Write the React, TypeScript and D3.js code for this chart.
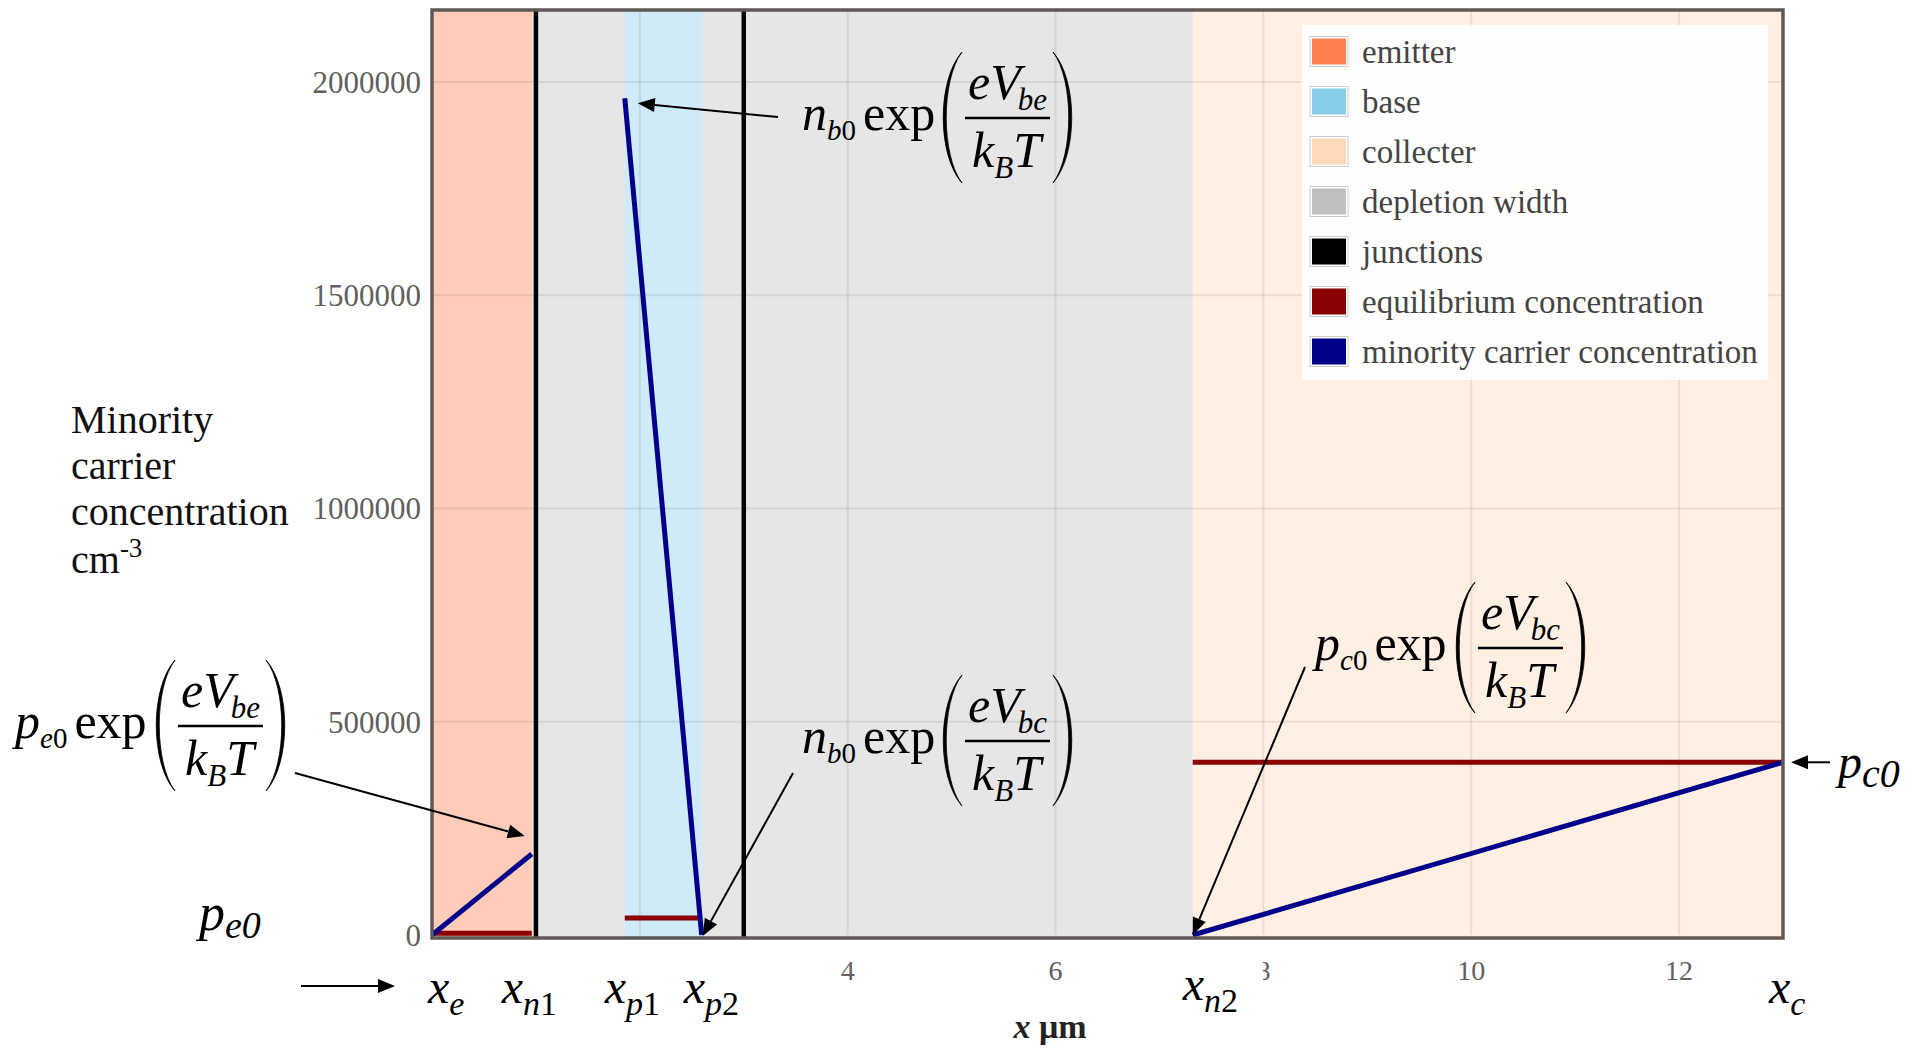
import React, { useEffect } from 'react';
import * as d3 from 'd3';

const W = 1921;
const H = 1049;

// ---------- data ----------
const xTicks = [0, 2, 4, 6, 8, 10, 12];
const xTicksHiddenByLabels = [0, 2];
const yTicks = [0, 500000, 1000000, 1500000, 2000000];
const xDomain = [0, 13];
const yDomain = [0, 2169000];

// region boundaries (µm): x_e, x_n1, x_p1, x_p2, x_n2, x_c
const boundaryNames = ['e', 'n1', 'p1', 'p2', 'n2', 'c'];
const boundaryValues = [0, 0.96, 1.855, 2.595, 7.32, 13];
const junctionValues = [1.0, 3.0];

// minority carrier concentration (cm^-3)
const emitterMinority: [number, number][] = [[0, 0], [0.96, 190000]];
const baseMinority: [number, number][] = [[1.855, 1962000], [2.595, 0]];
const collectorMinority: [number, number][] = [[7.32, 0], [13, 405000]];
// equilibrium concentration (cm^-3)
const emitterEquilibrium: [number, number][] = [[0, 4000], [0.96, 4000]];
const baseEquilibrium: [number, number][] = [[1.855, 40000], [2.595, 40000]];
const collectorEquilibrium: [number, number][] = [[7.32, 405000], [13, 405000]];

const legendLabels = [
  'emitter',
  'base',
  'collecter',
  'depletion width',
  'junctions',
  'equilibrium concentration',
  'minority carrier concentration',
];
const legendColors = ['#FF7F50', '#87CEEB', '#FFDAB9', '#C0C0C0', '#000000', '#8B0000', '#00008B'];

const SERIF = "'Liberation Serif', 'Times New Roman', serif";

function Arrow({ x1, y1, x2, y2 }: { x1: number; y1: number; x2: number; y2: number }) {
  const a = Math.atan2(y2 - y1, x2 - x1);
  const L = 17;
  const hw = 7;
  const bx = x2 - L * Math.cos(a);
  const by = y2 - L * Math.sin(a);
  const px = -Math.sin(a) * hw;
  const py = Math.cos(a) * hw;
  return (
    <g>
      <line x1={x1} y1={y1} x2={bx} y2={by} stroke="#000" strokeWidth={2} />
      <polygon points={`${x2},${y2} ${bx + px},${by + py} ${bx - px},${by - py}`} fill="#000" />
    </g>
  );
}

function ExpAnno({ x, y, pre, preSub, num }: { x: number; y: number; pre: string; preSub: string; num: string }) {
  const lp = 'M160,-78 C135,-50 135,25 160,53 C139,25 139,-50 160,-78 Z';
  const rp = 'M251,-78 C276,-50 276,25 251,53 C272,25 272,-50 251,-78 Z';
  return (
    <g transform={`translate(${x},${y})`} fontFamily={SERIF} fill="#000">
      <text x={0} y={0} fontSize={50}>
        <tspan fontStyle="italic">{pre}</tspan>
        <tspan fontSize={29} dy={10} fontStyle="italic">{preSub}</tspan>
        <tspan fontSize={29}>0</tspan>
        <tspan dy={-10} dx={7}>exp</tspan>
      </text>
      <path d={lp} fill="#000" stroke="#000" strokeWidth={0.8} />
      <line x1={163} x2={248} y1={-12} y2={-12} stroke="#000" strokeWidth={2.5} />
      <text x={166} y={-31} fontSize={50} fontStyle="italic">
        eV<tspan fontSize={31} dy={11} dx={-3}>{num}</tspan>
      </text>
      <text x={170} y={37} fontSize={50} fontStyle="italic">
        k<tspan fontSize={31} dy={11}>B</tspan><tspan dy={-11}>T</tspan>
      </text>
      <path d={rp} fill="#000" stroke="#000" strokeWidth={0.8} />
    </g>
  );
}

export default function App() {
  useEffect(() => {
    document.body.style.margin = '0';
    document.body.style.overflow = 'hidden';
  }, []);

  const x = d3.scaleLinear().domain(xDomain).range([432, 1783]);
  const y = d3.scaleLinear().domain(yDomain).range([935, 10]);
  const line = d3.line<[number, number]>().x((d) => x(d[0])).y((d) => y(d[1]));

  const top = y(yDomain[1]);
  const bottom = y(0);
  const b = boundaryValues;

  const regions = [
    { x0: b[0], x1: b[1], color: legendColors[0] },
    { x0: b[1], x1: b[2], color: legendColors[3] },
    { x0: b[2], x1: b[3], color: legendColors[1] },
    { x0: b[3], x1: b[4], color: legendColors[3] },
    { x0: b[4], x1: b[5], color: legendColors[2] },
  ];

  // label horizontal offsets relative to boundary (layout only)
  const labelDx = [-4, -30, -20, -18, -10, -14];
  const labelBase = [1003, 1003, 1003, 1003, 1000, 1003];

  const peak = baseMinority[0];
  const eEnd = emitterMinority[1];
  const cEnd = collectorMinority[1];

  return (
    <div style={{ position: 'absolute', left: 0, top: 0 }}>
      <svg width={W} height={H} style={{ display: 'block', background: '#fff' }}>
        {/* region fills */}
        {regions.map((r, i) => (
          <rect key={i} x={x(r.x0)} y={top} width={x(r.x1) - x(r.x0)} height={bottom - top + 3}
            fill={r.color} fillOpacity={0.4} />
        ))}
        {/* gridlines */}
        {xTicks.filter((t) => t > 0).map((t) => (
          <line key={'gx' + t} x1={x(t)} x2={x(t)} y1={top} y2={bottom} stroke="#000" strokeOpacity={0.08} strokeWidth={2} />
        ))}
        {yTicks.filter((t) => t > 0).map((t) => (
          <line key={'gy' + t} x1={x(0)} x2={x(13)} y1={y(t)} y2={y(t)} stroke="#000" strokeOpacity={0.08} strokeWidth={2} />
        ))}
        {/* junctions */}
        {junctionValues.map((j) => (
          <line key={'j' + j} x1={x(j)} x2={x(j)} y1={top} y2={bottom + 2} stroke="#000" strokeWidth={4.5} />
        ))}
        {/* equilibrium */}
        {[emitterEquilibrium, baseEquilibrium, collectorEquilibrium].map((d, i) => (
          <path key={'eq' + i} d={line(d) || ''} stroke={legendColors[5]} strokeWidth={5} fill="none" />
        ))}
        {/* minority */}
        {[emitterMinority, baseMinority, collectorMinority].map((d, i) => (
          <path key={'mc' + i} d={line(d) || ''} stroke={legendColors[6]} strokeWidth={5} fill="none" />
        ))}
        {/* frame */}
        <rect x={x(0)} y={top} width={x(13) - x(0)} height={bottom - top + 3} fill="none" stroke="#5e5856" strokeWidth={3.5} />

        {/* y ticks */}
        {yTicks.map((t) => (
          <text key={'yt' + t} x={421} y={y(t)} dy="0.35em" textAnchor="end" fontFamily={SERIF} fontSize={31} fill="#606060">
            {t}
          </text>
        ))}
        {/* x ticks (0 and 2 are covered by the boundary labels) */}
        {xTicks.filter((t) => !xTicksHiddenByLabels.includes(t)).map((t) => (
          <text key={'xt' + t} x={x(t)} y={980} textAnchor="middle" fontFamily={SERIF} fontSize={28} fill="#606060">
            {t}
          </text>
        ))}

        {/* x axis title */}
        <text x={1050} y={1038} textAnchor="middle" fontFamily={SERIF} fontSize={34} fontWeight="bold" fill="#222">
          <tspan fontStyle="italic">x</tspan> μm
        </text>

        {/* y axis title */}
        <text fontFamily={SERIF} fontSize={40} fill="#111">
          <tspan x={71} y={433}>Minority</tspan>
          <tspan x={71} y={479}>carrier</tspan>
          <tspan x={71} y={525}>concentration</tspan>
          <tspan x={71} y={573}>cm</tspan>
          <tspan fontSize={27} dy={-16}>-3</tspan>
        </text>

        {/* legend */}
        <rect x={1302} y={25} width={466} height={355} fill="#fff" fillOpacity={0.9} />
        {legendLabels.map((l, i) => {
          const cy = 51.5 + i * 50;
          return (
            <g key={l}>
              <rect x={1310} y={cy - 15} width={38} height={30} fill="#fff" stroke="#ccc" strokeWidth={1} />
              <rect x={1312} y={cy - 13} width={34} height={26} fill={legendColors[i]} />
              <text x={1362} y={cy} dy="0.35em" fontFamily={SERIF} fontSize={33} fill="#444">{l}</text>
            </g>
          );
        })}

        {/* boundary labels under the axis */}
        {boundaryNames.map((n, i) => {
          const lx = x(boundaryValues[i]) + labelDx[i];
          const letter = n[0];
          const digit = n.slice(1);
          return (
            <g key={'bl' + n}>
              {n === 'n2' && <rect x={lx - 8} y={952} width={1263 - (lx - 8)} height={70} fill="#fff" />}
              <text x={lx} y={labelBase[i]} fontFamily={SERIF} fontSize={48} fontStyle="italic" fill="#000">
                x<tspan fontSize={34} dy={12}>{letter}</tspan><tspan fontSize={34} fontStyle="normal">{digit}</tspan>
              </text>
            </g>
          );
        })}

        {/* annotations */}
        <ExpAnno x={802} y={130} pre="n" preSub="b" num="be" />
        <ExpAnno x={802} y={753} pre="n" preSub="b" num="bc" />
        <ExpAnno x={15} y={738} pre="p" preSub="e" num="be" />
        <ExpAnno x={1315} y={660} pre="p" preSub="c" num="bc" />

        <Arrow x1={778} y1={117} x2={x(peak[0]) + 13} y2={y(peak[1]) + 5} />
        <Arrow x1={793} y1={773} x2={x(baseMinority[1][0]) + 1} y2={y(0) + 1} />
        <Arrow x1={295} y1={773} x2={x(eEnd[0]) - 7} y2={y(eEnd[1]) - 18} />
        <Arrow x1={1305} y1={667} x2={x(collectorMinority[0][0])} y2={y(0)} />
        <Arrow x1={1830} y1={y(cEnd[1])} x2={x(cEnd[0]) + 8} y2={y(cEnd[1])} />
        <Arrow x1={301} y1={986} x2={395} y2={986} />

        {/* p_e0 and p_c0 labels */}
        <text x={199} y={930} fontFamily={SERIF} fontSize={52} fontStyle="italic" fill="#000">
          p<tspan fontSize={38} dy={8}>e0</tspan>
        </text>
        <text x={1838} y={778} fontFamily={SERIF} fontSize={48} fontStyle="italic" fill="#000">
          p<tspan fontSize={40} dy={9}>c0</tspan>
        </text>
      </svg>
    </div>
  );
}
